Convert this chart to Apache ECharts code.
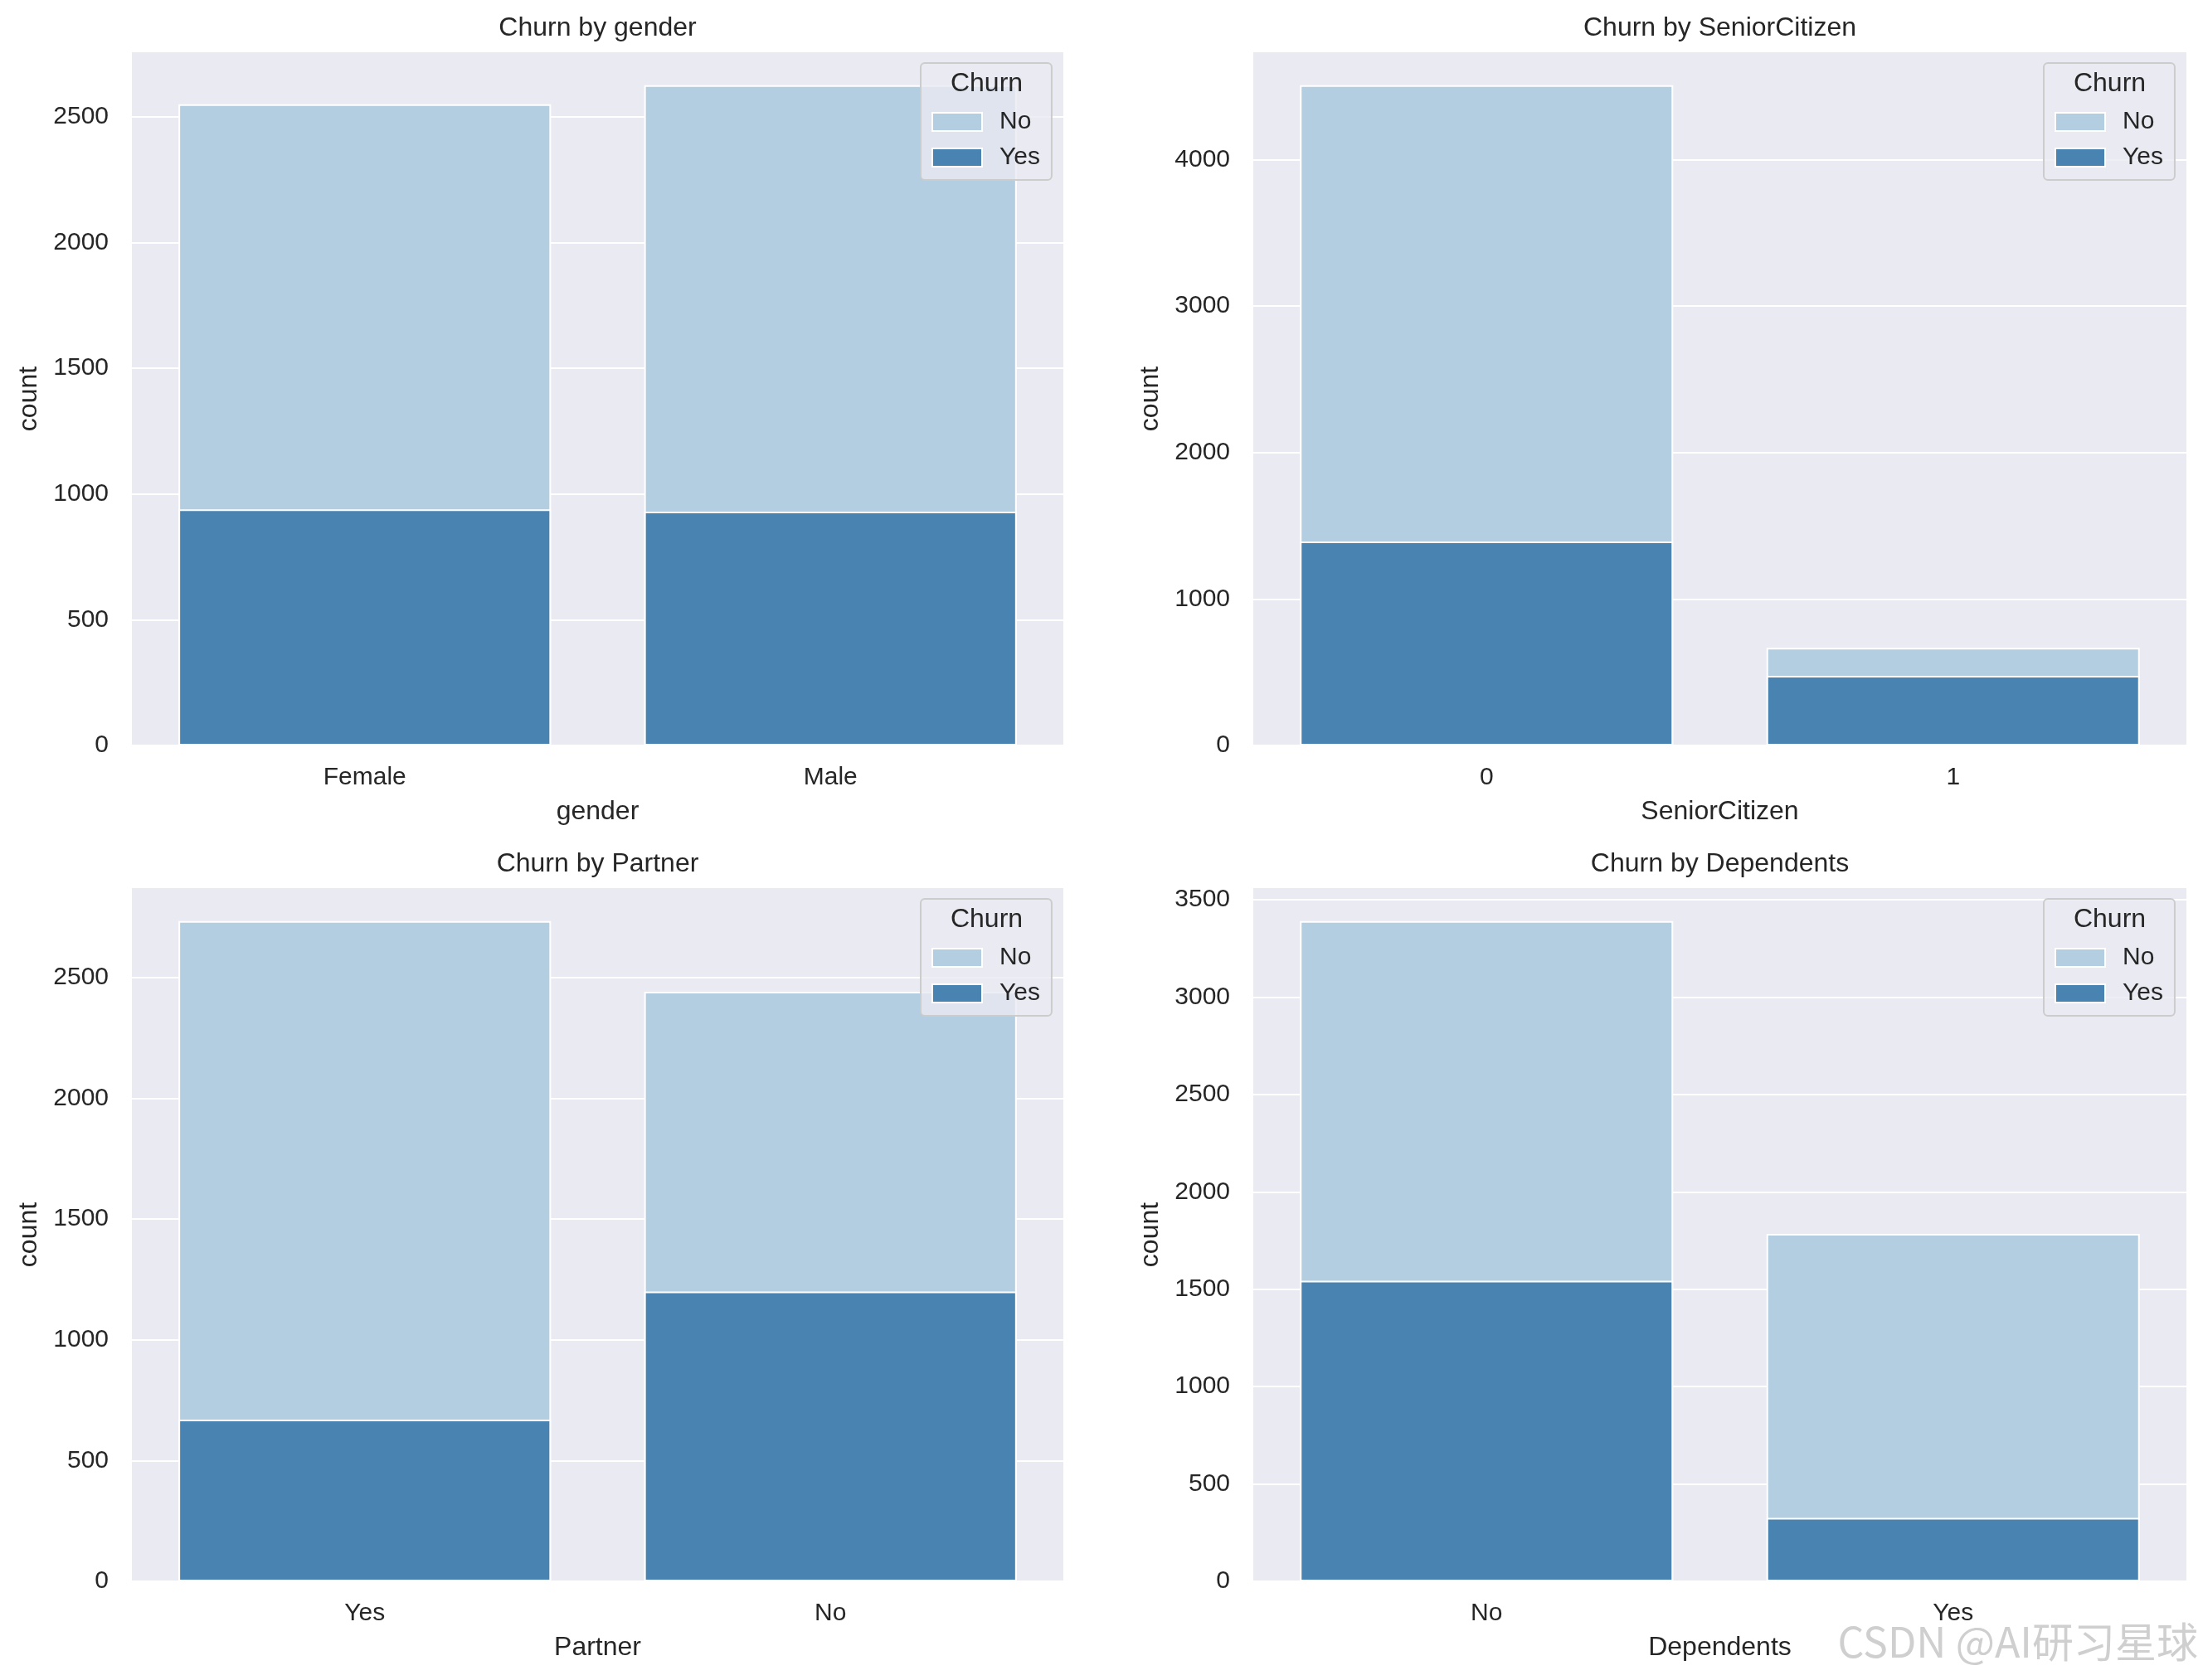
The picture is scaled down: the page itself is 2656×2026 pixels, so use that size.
<!DOCTYPE html>
<html>
<head>
<meta charset="utf-8">
<script src="https://cdn.jsdelivr.net/npm/echarts@6/dist/echarts.min.js"></script>
<style>
html,body{margin:0;padding:0;background:#fff;}
#chart{width:2656px;height:2026px;}
</style>
</head>
<body>
<div id="chart"></div>
<script>
// ---- data ----
const genderCats = ['Female', 'Male'];
const genderNo = [2549, 2625];
const genderYes = [939, 930];

const seniorCats = ['0', '1'];
const seniorNo = [4508, 666];
const seniorYes = [1393, 476];

const partnerCats = ['Yes', 'No'];
const partnerNo = [2733, 2441];
const partnerYes = [669, 1200];

const dependentsCats = ['No', 'Yes'];
const dependentsNo = [3390, 1784];
const dependentsYes = [1543, 326];

const yIntervals = [500, 1000, 500, 500];
const panelTitles = ['Churn by gender', 'Churn by SeniorCitizen', 'Churn by Partner', 'Churn by Dependents'];
const xNames = ['gender', 'SeniorCitizen', 'Partner', 'Dependents'];

// ---- layout / style ----
const panels = [
  {cats: genderCats, no: genderNo, yes: genderYes},
  {cats: seniorCats, no: seniorNo, yes: seniorYes},
  {cats: partnerCats, no: partnerNo, yes: partnerYes},
  {cats: dependentsCats, no: dependentsNo, yes: dependentsYes}
];
const grids = [
  {left: 159, top: 63, width: 1123, height: 836},
  {left: 1511, top: 63, width: 1125, height: 836},
  {left: 159, top: 1071, width: 1123, height: 836},
  {left: 1511, top: 1071, width: 1125, height: 836}
];
const FONT = '"Liberation Sans", Arial, "DejaVu Sans", sans-serif';
const TXT = '#262626';
const LIGHT = '#b3cee0';
const DARK = '#4883b1';

const option = {
  animation: false,
  backgroundColor: '#ffffff',
  textStyle: {fontFamily: FONT, color: TXT},
  title: [],
  grid: [],
  xAxis: [],
  yAxis: [],
  legend: [],
  series: [],
  graphic: []
};

panels.forEach((p, i) => {
  const g = grids[i];
  option.grid.push({left: g.left, top: g.top, width: g.width, height: g.height,
    show: true, backgroundColor: '#eaeaf2', borderWidth: 0, containLabel: false});
  option.title.push({
    text: panelTitles[i], left: g.left + g.width / 2, top: g.top - 45, textAlign: 'center', padding: 0,
    textStyle: {fontFamily: FONT, fontSize: 32, fontWeight: 'normal', color: TXT}
  });
  option.xAxis.push({
    type: 'category', gridIndex: i, data: p.cats, boundaryGap: true,
    name: xNames[i], nameLocation: 'middle', nameGap: 64,
    nameTextStyle: {fontFamily: FONT, fontSize: 32, color: TXT},
    axisLine: {show: false}, axisTick: {show: false},
    axisLabel: {fontFamily: FONT, fontSize: 30, color: TXT, margin: 24},
    splitLine: {show: false}
  });
  const maxV = Math.max(...p.no, ...p.yes) * 1.05;
  option.yAxis.push({
    type: 'value', gridIndex: i, min: 0, max: maxV, interval: yIntervals[i],
    name: 'count', nameLocation: 'middle', nameGap: 108,
    nameTextStyle: {fontFamily: FONT, fontSize: 32, color: TXT},
    axisLine: {show: false}, axisTick: {show: false},
    axisLabel: {fontFamily: FONT, fontSize: 30, color: TXT, margin: 28, showMaxLabel: false,
      formatter: v => String(v)},
    splitLine: {show: true, showMaxLine: false, lineStyle: {color: '#ffffff', width: 2}}
  });
  option.series.push({
    name: 'No', type: 'bar', xAxisIndex: i, yAxisIndex: i, data: p.no,
    barWidth: '80%', barGap: '-100%', z: 2,
    itemStyle: {color: LIGHT, borderColor: '#ffffff', borderWidth: 2}
  });
  option.series.push({
    name: 'Yes', type: 'bar', xAxisIndex: i, yAxisIndex: i, data: p.yes,
    barWidth: '80%', barGap: '-100%', z: 3,
    itemStyle: {color: DARK, borderColor: '#ffffff', borderWidth: 2}
  });
  // legend box anchored to top-right of grid
  const lw = 159, lleft = g.left + g.width - 13 - lw, ltop = g.top + 13;
  option.legend.push({
    data: ['No', 'Yes'], orient: 'vertical', left: lleft, top: ltop,
    itemWidth: 60, itemHeight: 22, itemGap: 13,
    padding: [56, 14, 12, 13],
    backgroundColor: 'rgba(234,234,242,0.8)', borderColor: '#cccccc', borderWidth: 2, borderRadius: 5,
    icon: 'rect',
    selectedMode: false,
    textStyle: {fontFamily: FONT, fontSize: 30, color: TXT, padding: [0, 0, 0, 16]},
    z: 10
  });
  option.graphic.push({
    type: 'text', z: 100, x: lleft + lw / 2, y: ltop + 25,
    style: {text: 'Churn', fontFamily: FONT, fontSize: 32, fill: TXT, textAlign: 'center', textVerticalAlign: 'middle'}
  });
});

option.graphic.push({
  type: 'text', z: 100, x: 2650, y: 1980,
  style: {text: 'CSDN @AI研习星球', fontFamily: '"Noto Sans CJK SC", "Liberation Sans", sans-serif', fontSize: 50,
    fill: '#cfcfcf', stroke: '#ffffff', lineWidth: 2, textAlign: 'right', textVerticalAlign: 'middle'}
});

const chart = echarts.init(document.getElementById('chart'));
chart.setOption(option);
</script>
</body>
</html>
